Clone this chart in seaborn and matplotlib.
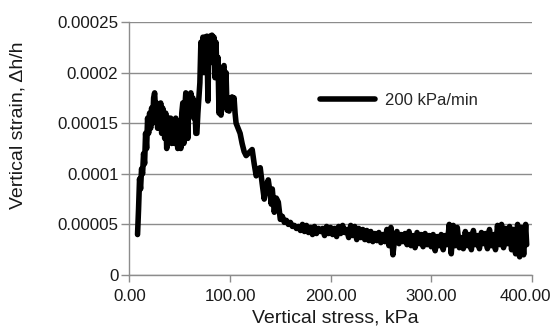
import matplotlib
matplotlib.use("Agg")
import matplotlib.pyplot as plt
import matplotlib.transforms as mtransforms
import seaborn as sns
import pandas as pd
from matplotlib.ticker import FixedLocator, FixedFormatter

# ---- data (stress in kPa, strain in units of 1e-5) ----
rise_stress = [8, 9, 10, 11, 12, 13, 14, 15, 16, 17, 18, 19, 20, 21, 22, 23, 24, 25,
               26, 27, 28, 29, 30, 31, 32, 33, 34, 35, 36, 37, 38, 39, 40, 41, 42, 43,
               44, 45, 46, 47, 48, 49, 50, 51, 52, 53, 54, 55, 56, 57, 58, 59, 60, 61,
               62, 63, 64, 65, 66, 67, 68, 69]
rise_strain = [4.0, 6.5, 9.5, 8.5, 10.5, 10.0, 12.0, 11.0, 14.0, 12.5, 15.5, 14.0, 16.0,
               14.5, 16.5, 15.0, 17.5, 18.0, 16.0, 17.0, 14.5, 16.5, 15.0, 17.0, 14.0,
               16.5, 15.5, 13.5, 16.0, 12.5, 15.0, 15.5, 14.0, 15.5, 13.0, 15.0, 14.5,
               13.0, 15.5, 14.0, 12.5, 15.0, 13.5, 12.5, 16.0, 17.0, 13.0, 16.5, 18.0,
               17.0, 13.5, 17.5, 16.5, 18.0, 16.5, 17.5, 15.5, 17.0, 14.0, 14.0, 16.0,
               17.5]

peak_stress = [70, 71, 72, 73, 74, 75, 76, 77, 78, 79, 80, 81, 82, 83, 84, 85, 86, 87,
               88, 89, 90, 91, 92, 93, 94, 95, 96, 97, 98, 99, 100, 101, 102, 103, 104,
               105]
peak_strain = [19.0, 23.0, 21.0, 23.5, 20.0, 23.5, 22.0, 23.6, 17.2, 23.0, 23.6, 21.0,
               23.7, 22.5, 23.5, 19.5, 23.0, 20.0, 21.5, 16.0, 18.0, 15.8, 19.0, 20.5,
               20.7, 18.0, 20.0, 16.3, 17.5, 16.2, 17.5, 16.5, 17.6, 16.8, 17.5, 16.0]

decay_stress = [106, 108, 110, 112, 114, 116, 118, 120, 122, 124, 126, 128, 130, 132,
                134, 136, 138, 140, 141, 142, 144, 146, 148, 150, 152, 154, 156, 158,
                160, 162, 164, 166, 168, 170, 172, 174, 176, 178, 180, 182, 184, 186,
                188, 190]
decay_strain = [15.0, 14.5, 14.0, 13.0, 12.2, 11.8, 12.0, 12.2, 12.4, 11.0, 9.8, 10.5,
                10.6, 9.0, 7.5, 8.8, 9.4, 8.0, 7.0, 8.5, 6.2, 7.6, 7.2, 5.5, 5.8, 5.2,
                5.4, 5.0, 5.2, 4.8, 4.9, 4.6, 4.8, 4.4, 5.0, 4.3, 4.9, 4.2, 4.7, 4.0,
                4.8, 4.1, 4.6, 4.3]

tail_stress = [192, 194, 196, 198, 200, 202, 204, 206, 208, 210, 212, 214, 216, 218,
               220, 222, 224, 226, 228, 230, 232, 234, 236, 238, 240, 242, 244, 246,
               248, 250, 252, 254, 256, 258, 260, 262, 264, 266, 268, 270, 272, 274,
               276, 278, 280, 282, 284, 286, 288, 290, 292, 294, 296, 298, 300, 302,
               304, 306, 308, 310, 312, 314, 316, 318, 320, 322, 324, 326, 328, 330,
               332, 334, 336, 338, 340, 342, 344, 346, 348, 350, 352, 354, 356, 358,
               360, 362, 364, 366, 368, 370, 372, 374, 376, 378, 380, 382, 384, 386,
               388, 390, 392, 394, 395]
tail_strain = [4.6, 3.9, 4.8, 4.1, 4.7, 4.0, 4.6, 3.8, 4.8, 4.1, 4.9, 4.2, 4.5, 3.7,
               4.9, 3.9, 4.8, 3.5, 4.6, 3.7, 4.5, 3.5, 4.4, 3.4, 4.3, 3.3, 4.1, 3.4,
               4.2, 3.2, 4.0, 3.3, 4.5, 2.9, 4.7, 2.0, 3.9, 4.3, 3.1, 4.0, 3.3, 4.1,
               3.0, 4.3, 2.9, 3.9, 2.7, 4.2, 3.1, 4.0, 2.8, 4.1, 3.0, 3.9, 2.8, 4.0,
               2.4, 3.8, 2.9, 4.0, 2.5, 3.9, 3.0, 5.0, 2.1, 4.9, 2.9, 4.7, 2.7, 3.7,
               2.6, 4.3, 2.9, 4.0, 2.5, 4.4, 3.0, 3.9, 2.6, 4.2, 3.1, 4.1, 2.6, 4.5,
               2.9, 4.0, 2.5, 4.9, 3.0, 5.0, 2.7, 4.6, 3.1, 4.8, 2.5, 4.5, 2.1, 5.0,
               1.8, 4.7, 2.0, 5.0, 3.0]

series_label = "200 kPa/min"
x_ticks = [0, 100, 200, 300, 400]
x_tick_labels = ["0.00", "100.00", "200.00", "300.00", "400.00"]
y_ticks = [0, 0.00005, 0.0001, 0.00015, 0.0002, 0.00025]
y_tick_labels = ["0", "0.00005", "0.0001", "0.00015", "0.0002", "0.00025"]

stress = rise_stress + peak_stress + decay_stress + tail_stress
strain = [v * 1e-5 for v in rise_strain + peak_strain + decay_strain + tail_strain]
df = pd.DataFrame({"stress": stress, "strain": strain, "rate": series_label})

sns.set_theme(style="white")
plt.rcParams["font.family"] = ["Liberation Sans", "DejaVu Sans"]

fig = plt.figure(figsize=(5.52, 3.34), dpi=100)
ax = fig.add_axes([0.2346, 0.1766, 0.7286, 0.7575])

sns.lineplot(data=df, x="stress", y="strain", hue="rate", palette=["black"],
             sort=False, estimator=None, units="rate", linewidth=4.0, ax=ax,
             solid_joinstyle="round", solid_capstyle="round")

ax.set_xlim(0, 400)
ax.set_ylim(0, 0.00025)
ax.xaxis.set_major_locator(FixedLocator(x_ticks))
ax.xaxis.set_major_formatter(FixedFormatter(x_tick_labels))
ax.yaxis.set_major_locator(FixedLocator(y_ticks))
ax.yaxis.set_major_formatter(FixedFormatter(y_tick_labels))

gray = "#8c8c8c"
ax.grid(True, axis="y", color=gray, linewidth=1.0)
ax.grid(False, axis="x")
ax.set_axisbelow(True)
for s in ["top", "right"]:
    ax.spines[s].set_visible(False)
for s in ["left", "bottom"]:
    ax.spines[s].set_color(gray)
    ax.spines[s].set_linewidth(1.0)
ax.tick_params(axis="y", direction="out", length=6, width=1.0, color=gray,
               labelsize=12.2, labelcolor="#1a1a1a", pad=2, left=True)
ax.tick_params(axis="x", direction="out", length=5, width=1.0, color=gray,
               labelsize=12.2, labelcolor="#1a1a1a", pad=5, bottom=True)

ax.set_xlabel("Vertical stress, kPa", fontsize=14, color="#1a1a1a")
ax.set_ylabel("Vertical strain, \u0394h/h", fontsize=14, color="#1a1a1a")
ax.xaxis.set_label_coords(0.511, -0.135)
ax.yaxis.set_label_coords(-0.255, 0.593)

# keep the last x tick label inside the figure
offset = mtransforms.ScaledTranslation(-6 / 100, 0, fig.dpi_scale_trans)
last = ax.get_xticklabels()[-1]
last.set_transform(last.get_transform() + offset)

leg = ax.legend(loc="center left", bbox_to_anchor=(0.4737, 0.689), frameon=False,
                borderpad=0, borderaxespad=0, handlelength=3.3, handletextpad=0.6,
                fontsize=12)
for line in leg.get_lines():
    line.set_linewidth(4.0)

fig.savefig("out.png", dpi=100)
